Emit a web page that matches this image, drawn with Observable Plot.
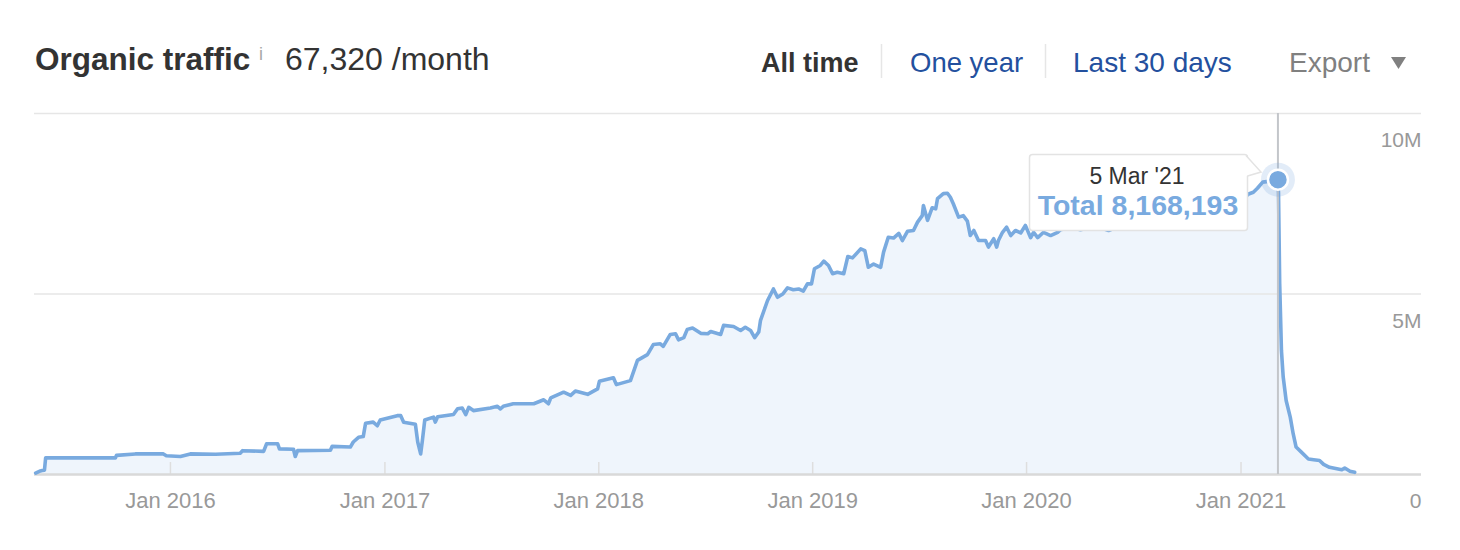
<!DOCTYPE html>
<html><head><meta charset="utf-8">
<script src="https://cdn.jsdelivr.net/npm/d3@7"></script>
<script src="https://cdn.jsdelivr.net/npm/@observablehq/plot@0.6"></script>
<style>
body{margin:0;background:#fff;font-family:"Liberation Sans",Arial,Helvetica,sans-serif;}
#wrap{position:relative;width:1460px;height:550px;overflow:hidden;background:#fff;}
#head{position:absolute;left:0;top:0;}
#chart{position:absolute;left:0;top:100px;}
#tip{position:absolute;left:0;top:0;pointer-events:none;}
</style></head><body>
<div id="wrap">
<svg id="head" width="1460" height="100" font-family="'Liberation Sans', Arial, Helvetica, sans-serif">
  <text x="35" y="70" font-size="31.5" font-weight="bold" fill="#333">Organic traffic</text>
  <text x="259" y="60" font-size="18" fill="#a8a8a8">i</text>
  <text x="285" y="70" font-size="32" fill="#333">67,320 /month</text>
  <text x="761" y="72" font-size="27" font-weight="bold" fill="#333">All time</text>
  <line x1="881.5" x2="881.5" y1="44" y2="78" stroke="#e6e6e6" stroke-width="1.5"/>
  <text x="910" y="72" font-size="27.5" fill="#23509e">One year</text>
  <line x1="1045.5" x2="1045.5" y1="44" y2="78" stroke="#e6e6e6" stroke-width="1.5"/>
  <text x="1073" y="72" font-size="28" fill="#23509e">Last 30 days</text>
  <text x="1289" y="72" font-size="28" fill="#808080">Export</text>
  <polygon points="1391,57 1406,57 1398.5,69" fill="#808080"/>
</svg>
<div id="chart"></div>
<svg id="tip" width="1460" height="550" font-family="'Liberation Sans', Arial, Helvetica, sans-serif">
  <rect x="1029.5" y="154.5" width="218" height="76" rx="3" fill="#fff" stroke="#e3e3e3" stroke-width="1.5"/>
  <path d="M1246,155.5 L1261,172 L1246,176 Z" fill="#fff"/>
  <polyline points="1246,155.5 1261,172 1247.5,176" fill="none" stroke="#e3e3e3" stroke-width="1.5"/>
  <text id="tipDate" x="1137" y="184" font-size="23" text-anchor="middle" fill="#333"></text>
  <text id="tipVal" x="1138" y="215" font-size="28.5" font-weight="bold" text-anchor="middle" fill="#79aadf"></text>
</svg>
</div>
<script>
// Organic traffic (millions of visits / month)
const dates = [
"2015-05-16","2015-05-24","2015-05-27","2015-05-31","2015-06-02","2015-09-29","2015-10-01","2015-11-02","2015-11-28","2015-12-20",
"2015-12-25","2016-01-18","2016-02-04","2016-03-18","2016-04-29","2016-05-03","2016-06-08","2016-06-13","2016-07-02","2016-07-05",
"2016-07-29","2016-08-01","2016-08-05","2016-09-30","2016-10-03","2016-11-03","2016-11-08","2016-11-17","2016-11-25","2016-11-29",
"2016-12-12","2016-12-19","2016-12-24","2017-01-22","2017-01-28","2017-02-02","2017-02-22","2017-02-26","2017-03-03","2017-03-06",
"2017-03-10","2017-03-25","2017-03-28","2017-04-01","2017-04-28","2017-05-05","2017-05-13","2017-05-19","2017-05-24","2017-06-01",
"2017-06-30","2017-07-12","2017-07-17","2017-07-22","2017-08-08","2017-09-12","2017-09-29","2017-10-07","2017-10-11","2017-11-02",
"2017-11-14","2017-11-22","2017-12-13","2017-12-23","2017-12-30","2018-01-02","2018-01-26","2018-01-31","2018-02-24","2018-03-08",
"2018-03-25","2018-04-04","2018-04-16","2018-04-21","2018-05-03","2018-05-12","2018-05-17","2018-05-26","2018-06-01","2018-06-10",
"2018-06-24","2018-07-06","2018-07-11","2018-07-28","2018-08-02","2018-08-19","2018-08-31","2018-09-08","2018-09-17","2018-09-24",
"2018-10-01","2018-10-04","2018-10-16","2018-10-26","2018-11-02","2018-11-11","2018-11-19","2018-11-29","2018-12-08","2018-12-16",
"2018-12-23","2018-12-30","2019-01-04","2019-01-14","2019-01-20","2019-01-28","2019-02-04","2019-02-12","2019-02-23","2019-03-02",
"2019-03-10","2019-03-24","2019-03-31","2019-04-06","2019-04-15","2019-04-27","2019-05-02","2019-05-10","2019-05-19","2019-05-28",
"2019-06-03","2019-06-12","2019-06-22","2019-06-29","2019-07-07","2019-07-09","2019-07-16","2019-07-24","2019-07-30","2019-08-02",
"2019-08-12","2019-08-19","2019-08-24","2019-08-29","2019-09-07","2019-09-15","2019-09-22","2019-09-27","2019-10-03","2019-10-11",
"2019-10-23","2019-10-28","2019-11-06","2019-11-11","2019-11-14","2019-11-21","2019-11-28","2019-12-05","2019-12-13","2019-12-22",
"2019-12-30","2020-01-08","2020-01-13","2020-01-20","2020-01-30","2020-02-11","2020-02-23","2020-02-28","2020-03-16","2020-04-02",
"2020-04-28","2020-05-20","2020-06-18","2020-07-31","2020-09-11","2020-10-24","2020-12-06","2021-01-09","2021-01-14","2021-01-22",
"2021-01-29","2021-02-07","2021-02-17","2021-03-05","2021-03-06","2021-03-08","2021-03-11","2021-03-14","2021-03-19","2021-03-26",
"2021-03-31","2021-04-05","2021-04-14","2021-04-26","2021-05-05","2021-05-15","2021-05-22","2021-06-01","2021-06-22","2021-06-27",
"2021-07-06","2021-07-14"
];
const traffic = [
0.04,0.10,0.11,0.12,0.46,0.46,0.53,0.57,0.57,0.57,
0.52,0.50,0.57,0.56,0.59,0.66,0.64,0.85,0.85,0.71,
0.70,0.50,0.66,0.67,0.78,0.76,0.90,1.03,1.05,1.42,
1.45,1.35,1.51,1.63,1.63,1.45,1.39,0.90,0.57,0.95,
1.51,1.59,1.45,1.60,1.66,1.82,1.84,1.66,1.86,1.77,
1.84,1.89,1.82,1.89,1.96,1.96,2.07,1.96,2.12,2.28,
2.19,2.31,2.22,2.31,2.37,2.58,2.68,2.49,2.60,3.16,
3.32,3.60,3.62,3.55,3.88,3.90,3.73,3.79,4.02,4.06,
3.91,3.90,3.96,3.88,4.13,4.10,3.99,4.08,3.99,3.79,
3.95,4.27,4.82,5.14,4.91,5.00,5.17,5.12,5.14,5.08,
5.28,5.28,5.70,5.79,5.91,5.79,5.56,5.60,5.56,6.04,
6.00,6.25,6.20,5.74,5.83,5.74,6.16,6.57,6.55,6.68,
6.48,6.74,6.76,6.99,7.17,7.45,7.04,7.39,7.36,7.64,
7.78,7.79,7.68,7.50,7.13,7.17,7.02,6.62,6.76,6.48,
6.48,6.30,6.53,6.30,6.48,6.71,6.85,6.62,6.76,6.69,
6.90,6.56,6.71,6.56,6.71,6.62,6.71,6.78,6.85,6.78,
6.88,6.76,6.95,7.05,7.15,7.30,7.50,7.70,7.77,7.82,
7.93,8.10,8.12,8.168193,7.80,5.28,3.43,2.70,2.05,1.59,
1.13,0.76,0.62,0.43,0.41,0.39,0.28,0.20,0.13,0.18,
0.09,0.06
];
const xDomain = ["2015-05-14", "2021-11-05"];
const yearTicks = ["2016-01-01","2017-01-01","2018-01-01","2019-01-01","2020-01-01","2021-01-01"];
const yearLabels = ["Jan 2016","Jan 2017","Jan 2018","Jan 2019","Jan 2020","Jan 2021"];
const yTicks = [0, 5, 10];
const yLabels = ["0", "5M", "10M"];
const hoverDate = "2021-03-05";
const hoverValue = 8.168193;
const hoverLabel = "5 Mar '21";

const data = dates.map((d, i) => ({date: new Date(d), value: traffic[i]}));
const ticks = yearTicks.map((d, i) => ({date: new Date(d), label: yearLabels[i]}));
const yt = yTicks.map((v, i) => ({v, label: yLabels[i]}));
const hover = [{date: new Date(hoverDate), value: hoverValue}];

const chart = Plot.plot({
  width: 1460, height: 450,
  marginTop: 13, marginBottom: 76, marginLeft: 34, marginRight: 39,
  x: {type: "utc", domain: xDomain.map(d => new Date(d)), axis: null},
  y: {domain: [0, 10], axis: null},
  style: {fontFamily: "'Liberation Sans', Arial, Helvetica, sans-serif", background: "transparent", overflow: "visible"},
  marks: [
    Plot.areaY(data, {x: "date", y: "value", fill: "#eff5fc"}),
    Plot.ruleY(yt.filter(d => d.v > 0), {y: "v", stroke: "#e6e6e6", strokeWidth: 1.5}),
    Plot.ruleX(ticks, {x: "date", stroke: "#dedede", strokeWidth: 1.5, insetTop: 349}),
    Plot.ruleY([0], {stroke: "#d9d9d9", strokeWidth: 2.5}),
    Plot.lineY(data, {x: "date", y: "value", stroke: "#79aadf", strokeWidth: 3.6, strokeLinejoin: "round", strokeLinecap: "round"}),
    Plot.ruleX(hover, {x: "date", stroke: "#c3c6ca", strokeWidth: 2}),
    Plot.dot(hover, {x: "date", y: "value", r: 17, fill: "#79aadf", fillOpacity: 0.22}),
    Plot.dot(hover, {x: "date", y: "value", r: 10, fill: "#79aadf", stroke: "#fff", strokeWidth: 2.5}),
    Plot.text(ticks, {x: "date", text: "label", frameAnchor: "bottom", lineAnchor: "middle", dy: 26, fill: "#999", fontSize: 22}),
    Plot.text(yt, {y: "v", text: "label", frameAnchor: "right", textAnchor: "end", lineAnchor: "middle", dy: 27, fill: "#999", fontSize: 21})
  ]
});
document.getElementById("chart").appendChild(chart);
document.getElementById("tipDate").textContent = hoverLabel;
document.getElementById("tipVal").textContent = "Total " + d3.format(",")(Math.round(hoverValue * 1e6));
</script>
</body></html>
